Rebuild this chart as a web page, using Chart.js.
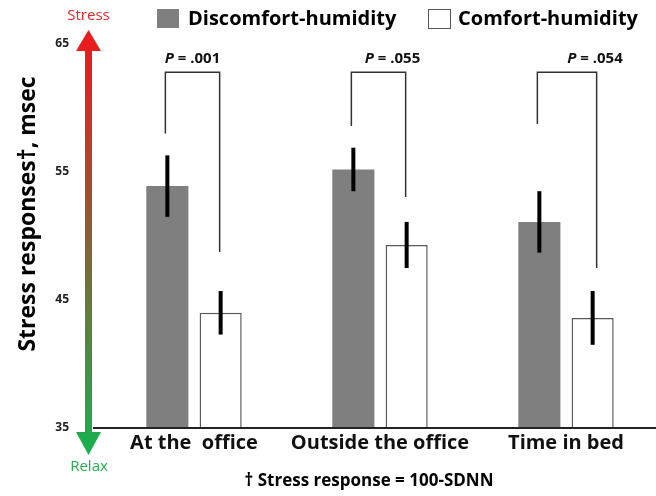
<!DOCTYPE html>
<html>
<head>
<meta charset="utf-8">
<script src="https://cdn.jsdelivr.net/npm/chart.js@4/dist/chart.umd.min.js"></script>
<style>
  html, body { margin: 0; padding: 0; overflow: hidden; background: #fff; }
  #wrap { width: 659px; height: 496px; }
</style>
</head>
<body>
<div id="wrap"><canvas id="c"></canvas></div>
<script>
// ── dati ──
const categories = ['At the  office', 'Outside the office', 'Time in bed'];
const seriesNames = ['Discomfort-humidity', 'Comfort-humidity'];
const discomfort = [53.9, 55.2, 51.1];
const comfort = [44.0, 49.3, 43.6];
const discomfortErr = [2.4, 1.7, 2.4];
const comfortErr = [1.7, 1.8, 2.1];
const yTicks = [35, 45, 55, 65];
const pValues = ['.001', '.055', '.054'];
const bracketTop = [62.8, 62.8, 62.8];
const bracketLeftEnd = [58.0, 58.6, 58.75];
const bracketRightEnd = [48.75, 53.05, 47.5];

const FONT = '"Open Sans", "DejaVu Sans", sans-serif';
const DARK = '#7f7f7f';

function seg(ctx, x1, y1, x2, y2) {
  ctx.beginPath(); ctx.moveTo(x1, y1); ctx.lineTo(x2, y2); ctx.stroke();
}

// error bar + parentesi con P
const errPlugin = {
  id: 'errPlugin',
  afterDatasetsDraw(chart) {
    const { ctx, scales: { y } } = chart;
    const m0 = chart.getDatasetMeta(0), m1 = chart.getDatasetMeta(1);
    ctx.save();
    ctx.strokeStyle = '#000'; ctx.lineWidth = 4; ctx.lineCap = 'butt';
    [[m0, discomfort, discomfortErr], [m1, comfort, comfortErr]].forEach(([m, vals, errs]) => {
      m.data.forEach((bar, i) => {
        seg(ctx, bar.x, y.getPixelForValue(vals[i] + errs[i]), bar.x, y.getPixelForValue(vals[i] - errs[i]));
      });
    });
    // parentesi
    ctx.strokeStyle = '#333'; ctx.lineWidth = 1.5;
    const shift = [0, 14, 28];
    categories.forEach((c, i) => {
      const xl = m0.data[i].x - 2, xr = m1.data[i].x - 1 + (i === 2 ? 5 : 0);
      const yt = y.getPixelForValue(bracketTop[i]);
      ctx.beginPath();
      ctx.moveTo(xl, y.getPixelForValue(bracketLeftEnd[i]));
      ctx.lineTo(xl, yt); ctx.lineTo(xr, yt);
      ctx.lineTo(xr, y.getPixelForValue(bracketRightEnd[i]));
      ctx.stroke();
      // etichetta P = ...
      const rest = ' = ' + pValues[i];
      ctx.fillStyle = '#111'; ctx.textBaseline = 'middle'; ctx.textAlign = 'left';
      ctx.font = 'italic bold 15px ' + FONT;
      const wp = ctx.measureText('P').width;
      ctx.font = 'bold 15px ' + FONT;
      const wr = ctx.measureText(rest).width;
      const cx = (xl + xr) / 2 + shift[i];
      const x0 = cx - (wp + wr) / 2;
      const ty = yt - 13;
      ctx.font = 'italic bold 15px ' + FONT;
      ctx.fillText('P', x0, ty);
      ctx.font = 'bold 15px ' + FONT;
      ctx.fillText(rest, x0 + wp, ty);
    });
    ctx.restore();
  },
  afterDraw(chart) {
    const { ctx, chartArea: a, scales: { y } } = chart;
    ctx.save();
    // asse x
    const yb = y.getPixelForValue(yTicks[0]);
    ctx.strokeStyle = '#222'; ctx.lineWidth = 2;
    seg(ctx, a.left - 8, yb, a.right, yb);

    // freccia Stress / Relax
    const ax = a.left - 12.5;
    const yTop = a.top - 14, yBot = yb + 27;
    const g = ctx.createLinearGradient(0, yTop, 0, yBot);
    g.addColorStop(0, '#ea1b1b');
    g.addColorStop(0.12, '#df2420');
    g.addColorStop(1, '#14b24e');
    ctx.fillStyle = g;
    ctx.fillRect(ax - 3.5, a.top + 2, 7, yb + 6 - a.top);
    ctx.beginPath();
    ctx.moveTo(ax, yTop); ctx.lineTo(ax + 12.5, a.top + 7); ctx.lineTo(ax - 12.5, a.top + 7); ctx.closePath();
    ctx.fill();
    ctx.beginPath();
    ctx.moveTo(ax, yBot); ctx.lineTo(ax + 12.5, yb + 4); ctx.lineTo(ax - 12.5, yb + 4); ctx.closePath();
    ctx.fill();

    ctx.textAlign = 'center'; ctx.textBaseline = 'middle';
    ctx.font = '15px ' + FONT;
    ctx.fillStyle = '#e8262a';
    ctx.fillText('Stress', ax, 16);
    ctx.fillStyle = '#22b14c';
    ctx.fillText('Relax', ax + 0.5, 467);

    // titolo asse y
    ctx.save();
    ctx.translate(28, 214);
    ctx.rotate(-Math.PI / 2);
    ctx.fillStyle = '#000';
    ctx.font = 'bold 23px ' + FONT;
    ctx.fillText('Stress responses\u2020, msec', 0, 0);
    ctx.restore();

    // nota
    ctx.fillStyle = '#000';
    ctx.font = 'bold 17px ' + FONT;
    ctx.fillText('\u2020 Stress response = 100-SDNN', 369, 481);

    // legenda
    const leg = [[157, 188], [428, 458]];
    chart.data.datasets.forEach((ds, i) => {
      const [bx, tx] = leg[i];
      ctx.fillStyle = ds.backgroundColor;
      ctx.fillRect(bx, 9, 22, 19);
      if (i === 1) { ctx.strokeStyle = '#555'; ctx.lineWidth = 1; ctx.strokeRect(bx + 0.5, 9.5, 22, 19); }
      ctx.fillStyle = '#000';
      ctx.textAlign = 'left';
      ctx.font = 'bold 20px ' + FONT;
      ctx.fillText(ds.label, tx, 19);
    });
    ctx.restore();
  }
};

new Chart(document.getElementById('c'), {
  type: 'bar',
  data: {
    labels: categories,
    datasets: [
      { label: seriesNames[0], data: discomfort, backgroundColor: DARK, borderColor: DARK, borderWidth: 0,
        barPercentage: 0.79, categoryPercentage: 0.573 },
      { label: seriesNames[1], data: comfort, backgroundColor: '#ffffff', borderColor: '#5a5a5a', borderWidth: 1.5,
        barPercentage: 0.79, categoryPercentage: 0.573 }
    ]
  },
  options: {
    responsive: true,
    maintainAspectRatio: false,
    animation: false,
    layout: { padding: { top: 44, left: 0, right: 0, bottom: 0 } },
    plugins: { legend: { display: false }, tooltip: { enabled: false } },
    scales: {
      x: {
        grid: { display: false, drawTicks: false },
        border: { display: false },
        ticks: { color: '#111', font: { family: FONT, size: 20, weight: 'bold' }, padding: 3 },
        afterFit: s => { s.height = 68; }
      },
      y: {
        min: 35, max: 65,
        afterBuildTicks: s => { s.ticks = yTicks.map(v => ({ value: v })); },
        grid: { display: false, drawTicks: false },
        border: { display: false },
        ticks: { color: '#222', font: { family: FONT, size: 12, weight: 'bold' }, padding: 32 },
        afterFit: s => { s.width = 101; }
      }
    }
  },
  plugins: [errPlugin]
});
</script>
</body>
</html>
